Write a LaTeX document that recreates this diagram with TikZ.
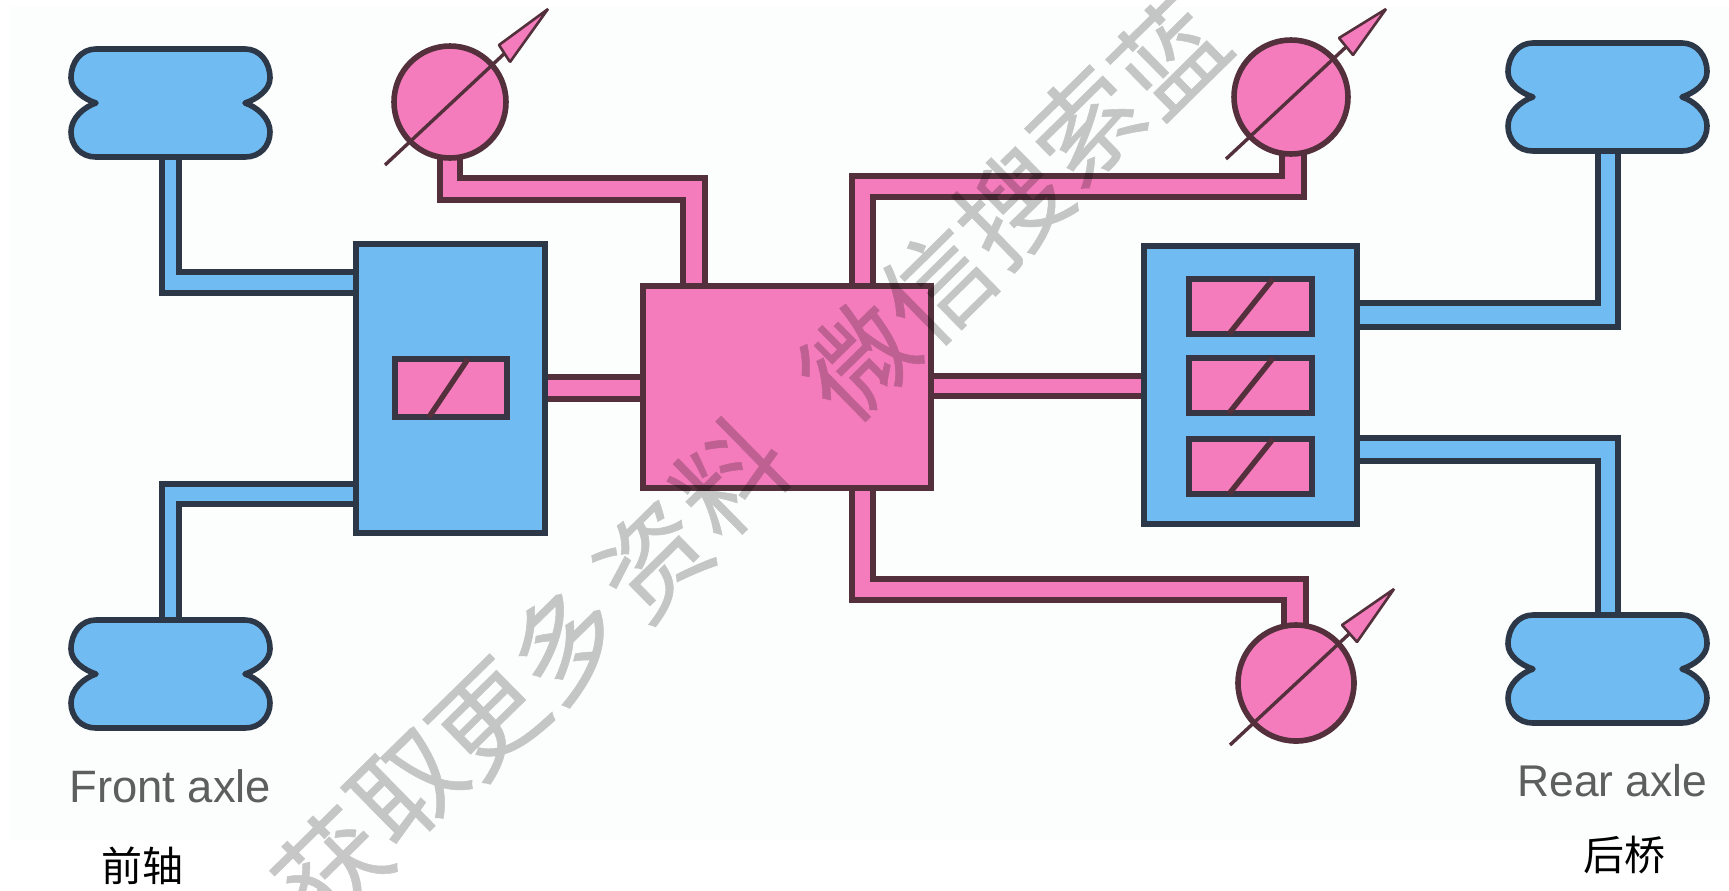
\documentclass[tikz,border=0pt]{standalone}
\usepackage{fontspec}
\setmainfont{Liberation Sans}
\newfontfamily\cjk{Noto Sans CJK SC}
\newfontfamily\cjkmark[FakeBold=0.5]{Noto Sans CJK SC}
\definecolor{pinkf}{HTML}{F57CBC}
\definecolor{bluef}{HTML}{70BCF2}
\definecolor{bluel}{HTML}{2C3748}
\definecolor{pinkl}{HTML}{54303C}
\definecolor{paper}{HTML}{FBFEFC}
\definecolor{capt}{HTML}{5C5F5E}
\tikzset{
  x=0.5pt,y=-0.5pt,
  bluebox/.style={draw=bluel,fill=bluef,line width=2.8pt},
  pinkbox/.style={draw=pinkl,fill=pinkf,line width=2.8pt},
  valve/.style={draw=bluel!70!pinkl,fill=pinkf,line width=3pt},
  bfill/.style={fill=bluef},
  pfill/.style={fill=pinkf},
  bline/.style={draw=bluel,line width=2.6pt},
  pline/.style={draw=pinkl,line width=2.7pt},
  needle/.style={draw=pinkl,line width=1.7pt},
  pointer/.style={draw=pinkl,fill=pinkf,line width=1.3pt,line join=bevel},
  capt/.style={font=\fontsize{22.7}{22.7}\selectfont,text=capt,inner sep=0pt,anchor=base west},
  zh/.style={font=\cjk\fontsize{20.5}{20.5}\selectfont,text=black,inner sep=0pt},
  wm/.style={font=\cjkmark\fontsize{54}{54}\selectfont,text=black,inner sep=0pt,rotate=44.5},
}
\newcommand{\tyre}[2]{% left x, top y
  \draw[bluebox,line join=round] (#1+25,#2) -- (#1+174,#2)
    .. controls (#1+189,#2) and (#1+199,#2+13) .. (#1+199,#2+29)
    .. controls (#1+199,#2+41) and (#1+186,#2+50) .. (#1+174,#2+54)
    .. controls (#1+186,#2+58) and (#1+199,#2+69) .. (#1+199,#2+83)
    .. controls (#1+199,#2+97) and (#1+189,#2+108) .. (#1+174,#2+108)
    -- (#1+25,#2+108)
    .. controls (#1+10,#2+108) and (#1,#2+97) .. (#1,#2+83)
    .. controls (#1,#2+69) and (#1+13,#2+58) .. (#1+25,#2+54)
    .. controls (#1+13,#2+50) and (#1,#2+41) .. (#1,#2+29)
    .. controls (#1,#2+13) and (#1+10,#2) .. (#1+25,#2) -- cycle;
}
\begin{document}
\begin{tikzpicture}
\useasboundingbox (0,0) rectangle (1729,890);
\fill[white] (0,0) rectangle (1729,890);
\fill[paper] (10,7) rectangle (1729,840);

% --- pipes, front left
\fill[bfill] (162,157) -- (179,157) -- (179,272) -- (356,272) -- (356,293) -- (162,293) -- cycle;
\draw[bline] (162,157) -- (162,293) -- (356,293);
\draw[bline] (179,157) -- (179,272) -- (356,272);
\fill[bfill] (162,620) -- (179,620) -- (179,504) -- (356,504) -- (356,484) -- (162,484) -- cycle;
\draw[bline] (162,620) -- (162,484) -- (356,484);
\draw[bline] (179,620) -- (179,504) -- (356,504);
% --- pipes, rear
\fill[bfill] (1598,150) -- (1618,150) -- (1618,327) -- (1357,327) -- (1357,303) -- (1598,303) -- cycle;
\draw[bline] (1598,150) -- (1598,303) -- (1357,303);
\draw[bline] (1618,150) -- (1618,327) -- (1357,327);
\fill[bfill] (1598,615) -- (1618,615) -- (1618,438) -- (1357,438) -- (1357,461) -- (1598,461) -- cycle;
\draw[bline] (1598,615) -- (1598,461) -- (1357,461);
\draw[bline] (1618,615) -- (1618,438) -- (1357,438);
% --- pink pipes
\fill[pfill] (440,150) -- (460,150) -- (460,178) -- (705,178) -- (705,286) -- (683,286) -- (683,200) -- (440,200) -- cycle;
\draw[pline] (440,150) -- (440,200) -- (683,200) -- (683,286);
\draw[pline] (460,150) -- (460,178) -- (705,178) -- (705,286);
\fill[pfill] (852,286) -- (852,176) -- (1282,176) -- (1282,150) -- (1304,150) -- (1304,197) -- (873,197) -- (873,286) -- cycle;
\draw[pline] (852,286) -- (852,176) -- (1282,176) -- (1282,150);
\draw[pline] (873,286) -- (873,197) -- (1304,197) -- (1304,150);
\fill[pfill] (852,488) -- (852,600) -- (1284,600) -- (1284,630) -- (1306,630) -- (1306,579) -- (873,579) -- (873,488) -- cycle;
\draw[pline] (852,488) -- (852,600) -- (1284,600) -- (1284,630);
\draw[pline] (873,488) -- (873,579) -- (1306,579) -- (1306,630);
\fill[pfill] (545,377) rectangle (643,399);
\draw[pline] (545,377) -- (643,377) (545,399) -- (643,399);
\fill[pfill] (931,376) rectangle (1144,396);
\draw[pline] (931,376) -- (1144,376) (931,396) -- (1144,396);

% --- tyres
\tyre{71}{49}
\tyre{71}{620}
\tyre{1508}{43}
\tyre{1508}{615}

% --- boxes
\draw[bluebox] (356,244) rectangle (545,533);
\draw[bluebox] (1144,246) rectangle (1357,524);
\draw[pinkbox] (643,286) rectangle (931,488);
% valves
\draw[valve] (395,359) rectangle (507,417);
\draw[pline] (468,359) -- (429,417);
\foreach \t in {279,358,439}{
  \draw[valve] (1189,\t) rectangle (1312,\t+55);
  \draw[pline] (1273,\t) -- (1229,\t+55);
}

% --- gauges
\draw[pinkbox] (450,102) circle[radius=56];
\draw[needle] (385,165) -- (505,53);
\draw[pointer] (499,45) -- (548,9) -- (510,62) -- cycle;
\draw[pinkbox] (1291,97) circle[radius=57];
\draw[needle] (1226,159) -- (1346,47);
\draw[pointer] (1339,38) -- (1386,9) -- (1353,55) -- cycle;
\draw[pinkbox] (1296,683) circle[radius=58];
\draw[needle] (1230,745) -- (1349,634);
\draw[pointer] (1342,625) -- (1394,589) -- (1357,642) -- cycle;

% --- captions
\node[capt] (front) at (69,802) {Front axle};
\node[capt,font=\fontsize{22.2}{22.2}\selectfont] (rear) at (1517,796) {Rear axle};
\node[zh] (qz) at (142,866) {前轴};
\node[zh] (hq) at (1624,855) {后桥};

% --- watermark
\begin{scope}[transparency group,opacity=0.22]
\clip (0,0) rectangle (1729,890);
\node[wm] (w1) at (332,867) {获};
\node[wm] (w2) at (408,787) {取};
\node[wm] (w3) at (489,720) {更};
\node[wm] (w4) at (565,643) {多};
\node[wm] (w5) at (653,560) {资};
\node[wm] (w6) at (730,477) {料};
\node[wm] (w7) at (858,360) {微};
\node[wm] (w8) at (937,285) {信};
\node[wm] (w9) at (1012,207) {搜};
\node[wm] (w10) at (1085,125) {索};
\node[wm] (w11) at (1168,55) {蓝};
\end{scope}
\end{tikzpicture}
\end{document}
